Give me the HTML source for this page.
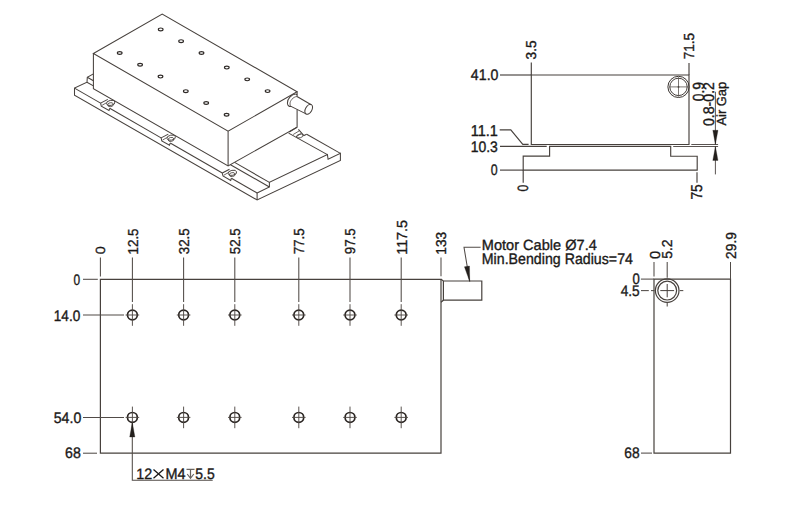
<!DOCTYPE html>
<html><head><meta charset="utf-8"><style>
html,body{margin:0;padding:0;background:#ffffff;}
svg{display:block;}
text{font-family:"Liberation Sans", sans-serif;text-rendering:geometricPrecision;}
</style></head><body>
<svg width="800" height="509" viewBox="0 0 800 509" stroke-linecap="butt" stroke-linejoin="miter">
<rect width="800" height="509" fill="#ffffff"/>
<path d="M93.4,53.5 L162.2,14.0 L297.1,91.8 L228.1,131.2 Z" stroke="#47413d" stroke-width="1.05" fill="none" />
<path d="M93.4,53.5 L93.4,88.6 L228.1,166.0 L297.1,127.1 L297.1,109.4" stroke="#47413d" stroke-width="1.05" fill="none" />
<line x1="228.10" y1="131.20" x2="228.10" y2="166.00" stroke="#47413d" stroke-width="1.05"/>
<line x1="297.10" y1="91.80" x2="297.10" y2="96.20" stroke="#47413d" stroke-width="1.05"/>
<ellipse cx="0" cy="0" rx="2.35" ry="1.4" transform="translate(160.70 29.40) rotate(0)" stroke="#2f2a27" stroke-width="1.15" fill="none"/>
<ellipse cx="0" cy="0" rx="2.35" ry="1.4" transform="translate(181.10 41.18) rotate(0)" stroke="#2f2a27" stroke-width="1.15" fill="none"/>
<ellipse cx="0" cy="0" rx="2.35" ry="1.4" transform="translate(201.50 52.96) rotate(0)" stroke="#2f2a27" stroke-width="1.15" fill="none"/>
<ellipse cx="0" cy="0" rx="2.35" ry="1.4" transform="translate(226.80 67.57) rotate(0)" stroke="#2f2a27" stroke-width="1.15" fill="none"/>
<ellipse cx="0" cy="0" rx="2.35" ry="1.4" transform="translate(247.20 79.35) rotate(0)" stroke="#2f2a27" stroke-width="1.15" fill="none"/>
<ellipse cx="0" cy="0" rx="2.35" ry="1.4" transform="translate(267.60 91.12) rotate(0)" stroke="#2f2a27" stroke-width="1.15" fill="none"/>
<ellipse cx="0" cy="0" rx="2.35" ry="1.4" transform="translate(119.70 53.00) rotate(0)" stroke="#2f2a27" stroke-width="1.15" fill="none"/>
<ellipse cx="0" cy="0" rx="2.35" ry="1.4" transform="translate(140.10 64.78) rotate(0)" stroke="#2f2a27" stroke-width="1.15" fill="none"/>
<ellipse cx="0" cy="0" rx="2.35" ry="1.4" transform="translate(160.50 76.56) rotate(0)" stroke="#2f2a27" stroke-width="1.15" fill="none"/>
<ellipse cx="0" cy="0" rx="2.35" ry="1.4" transform="translate(185.80 91.17) rotate(0)" stroke="#2f2a27" stroke-width="1.15" fill="none"/>
<ellipse cx="0" cy="0" rx="2.35" ry="1.4" transform="translate(206.20 102.95) rotate(0)" stroke="#2f2a27" stroke-width="1.15" fill="none"/>
<ellipse cx="0" cy="0" rx="2.35" ry="1.4" transform="translate(226.60 114.72) rotate(0)" stroke="#2f2a27" stroke-width="1.15" fill="none"/>
<line x1="297.00" y1="96.50" x2="311.20" y2="104.70" stroke="#47413d" stroke-width="1.05"/>
<line x1="291.00" y1="106.40" x2="306.10" y2="113.90" stroke="#47413d" stroke-width="1.05"/>
<ellipse cx="0" cy="0" rx="3.2" ry="5.4" transform="translate(308.70 109.30) rotate(30)" stroke="#47413d" stroke-width="1.05" fill="none"/>
<path d="M295.8,94.0 C291.5,94.2 287.0,99.0 287.4,103.2 C287.7,106.0 289.5,106.8 291.2,106.4" stroke="#47413d" stroke-width="1.05" fill="none" />
<path d="M297.0,96.5 C293.0,96.8 289.8,101.0 290.0,104.0 C290.2,105.8 290.8,106.3 291.2,106.4" stroke="#47413d" stroke-width="0.8" fill="none" />
<line x1="295.80" y1="94.00" x2="297.10" y2="94.80" stroke="#47413d" stroke-width="1.05"/>
<path d="M93.4,73.9 L87.3,77.3 L87.0,82.2 L74.5,88.1 L74.5,95.2 L257.1,200.0 L340.4,160.4 L340.4,153.4 L328.1,159.3 L327.4,154.6 L269.4,182.4 L269.4,187.0 L257.1,193.0" stroke="#47413d" stroke-width="1.05" fill="none" />
<line x1="87.30" y1="77.30" x2="93.40" y2="80.80" stroke="#47413d" stroke-width="1.05"/>
<line x1="257.10" y1="193.00" x2="257.10" y2="200.00" stroke="#47413d" stroke-width="1.05"/>
<line x1="87.00" y1="82.20" x2="93.40" y2="85.90" stroke="#47413d" stroke-width="1.05"/>
<line x1="269.40" y1="182.40" x2="234.60" y2="162.40" stroke="#47413d" stroke-width="1.05"/>
<line x1="269.40" y1="187.00" x2="230.50" y2="164.70" stroke="#47413d" stroke-width="1.05"/>
<line x1="327.40" y1="154.60" x2="288.60" y2="133.10" stroke="#47413d" stroke-width="1.05"/>
<line x1="340.40" y1="153.40" x2="306.70" y2="134.30" stroke="#47413d" stroke-width="1.05"/>
<line x1="74.50" y1="88.10" x2="100.60" y2="103.09" stroke="#47413d" stroke-width="1.05"/>
<path d="M100.6,103.09445 L101.3,106.09445 L109.0,110.49445 L109.69999999999999,108.32239999999999" stroke="#47413d" stroke-width="1.05" fill="none" />
<path d="M100.6,103.09445 L107.8,99.39444999999999" stroke="#47413d" stroke-width="1.05" fill="none" />
<path d="M102.1,105.29445 L106.39999999999999,102.79445" stroke="#47413d" stroke-width="0.8" fill="none" />
<ellipse cx="0" cy="0" rx="4.3" ry="2.5" transform="translate(110.70 102.89) rotate(-12)" stroke="#47413d" stroke-width="0.9" fill="none"/>
<ellipse cx="0" cy="0" rx="2.9" ry="2.0" transform="translate(110.50 104.69) rotate(-10)" stroke="#47413d" stroke-width="0.8" fill="none"/>
<line x1="109.70" y1="108.32" x2="161.10" y2="137.85" stroke="#47413d" stroke-width="1.05"/>
<path d="M161.1,137.8517 L161.79999999999998,140.8517 L169.5,145.2517 L170.2,143.07965" stroke="#47413d" stroke-width="1.05" fill="none" />
<path d="M161.1,137.8517 L168.29999999999998,134.1517" stroke="#47413d" stroke-width="1.05" fill="none" />
<path d="M162.6,140.05169999999998 L166.9,137.55169999999998" stroke="#47413d" stroke-width="0.8" fill="none" />
<ellipse cx="0" cy="0" rx="4.3" ry="2.5" transform="translate(171.20 137.65) rotate(-12)" stroke="#47413d" stroke-width="0.9" fill="none"/>
<ellipse cx="0" cy="0" rx="2.9" ry="2.0" transform="translate(171.00 139.45) rotate(-10)" stroke="#47413d" stroke-width="0.8" fill="none"/>
<line x1="170.20" y1="143.08" x2="222.30" y2="173.01" stroke="#47413d" stroke-width="1.05"/>
<path d="M222.3,173.0111 L223.0,176.0111 L230.70000000000002,180.4111 L231.4,178.23905000000002" stroke="#47413d" stroke-width="1.05" fill="none" />
<path d="M222.3,173.0111 L229.5,169.3111" stroke="#47413d" stroke-width="1.05" fill="none" />
<path d="M223.8,175.2111 L228.10000000000002,172.7111" stroke="#47413d" stroke-width="0.8" fill="none" />
<ellipse cx="0" cy="0" rx="4.3" ry="2.5" transform="translate(232.40 172.81) rotate(-12)" stroke="#47413d" stroke-width="0.9" fill="none"/>
<ellipse cx="0" cy="0" rx="2.9" ry="2.0" transform="translate(232.20 174.61) rotate(-10)" stroke="#47413d" stroke-width="0.8" fill="none"/>
<line x1="231.40" y1="178.24" x2="257.10" y2="193.00" stroke="#47413d" stroke-width="1.05"/>
<path d="M297.0,127.2 L289.2,132.0" stroke="#47413d" stroke-width="1.05" fill="none" />
<path d="M298.4,129.3 L303.9,135.5 L306.7,134.3" stroke="#47413d" stroke-width="1.05" fill="none" />
<path d="M293.2,134.5 L299.0,131.0" stroke="#47413d" stroke-width="0.8" fill="none" />
<path d="M296.0,136.8 L301.0,133.6" stroke="#47413d" stroke-width="0.8" fill="none" />
<ellipse cx="0" cy="0" rx="3.3" ry="1.8" transform="translate(299.80 136.00) rotate(-15)" stroke="#47413d" stroke-width="0.8" fill="none"/>
<path d="M531.3,75.0 L689.0,75.0 L689.0,144.5 L531.3,144.5 Z" stroke="#47413d" stroke-width="1.15" fill="none" />
<line x1="500.00" y1="75.00" x2="531.30" y2="75.00" stroke="#47413d" stroke-width="1.15"/>
<line x1="531.30" y1="62.50" x2="531.30" y2="75.00" stroke="#47413d" stroke-width="1.15"/>
<line x1="689.00" y1="63.00" x2="689.00" y2="75.00" stroke="#47413d" stroke-width="1.15"/>
<circle cx="678.50" cy="86.90" r="10.6" stroke="#3a3430" stroke-width="1.0" fill="none"/>
<circle cx="678.50" cy="86.90" r="8.7" stroke="#3a3430" stroke-width="0.95" fill="none"/>
<line x1="669.30" y1="86.90" x2="688.00" y2="86.90" stroke="#514b47" stroke-width="0.75"/>
<line x1="678.50" y1="77.30" x2="678.50" y2="96.60" stroke="#514b47" stroke-width="0.75"/>
<circle cx="678.50" cy="86.90" r="0.9" stroke="#47413d" stroke-width="0" fill="#47413d"/>
<path d="M500.0,146.4 L546.7,146.4" stroke="#47413d" stroke-width="1.15" fill="none" />
<path d="M549.6,146.4 L670.7,146.4 L670.7,156.2 L697.2,156.2 L697.2,170.1 L523.2,170.1 L523.2,156.1 L549.6,156.1 Z" stroke="#47413d" stroke-width="1.15" fill="none" />
<line x1="500.00" y1="170.10" x2="523.20" y2="170.10" stroke="#47413d" stroke-width="1.15"/>
<line x1="523.20" y1="170.10" x2="523.20" y2="182.80" stroke="#47413d" stroke-width="1.15"/>
<line x1="697.00" y1="172.20" x2="697.00" y2="182.70" stroke="#47413d" stroke-width="1.15"/>
<path d="M499.7,129.9 L510.8,129.9 L522.8,144.3 L528.6,144.3" stroke="#47413d" stroke-width="1.15" fill="none" />
<line x1="691.30" y1="144.50" x2="718.10" y2="144.50" stroke="#47413d" stroke-width="0.9"/>
<line x1="673.20" y1="146.50" x2="718.10" y2="146.50" stroke="#47413d" stroke-width="0.9"/>
<line x1="715.40" y1="91.80" x2="715.40" y2="144.30" stroke="#47413d" stroke-width="0.9"/>
<path d="M715.4,144.4 L712.8,130.3 L718.0,130.3 Z" stroke="#231f1c" stroke-width="0.3" fill="#231f1c" />
<line x1="715.40" y1="146.60" x2="715.40" y2="174.40" stroke="#47413d" stroke-width="0.9"/>
<path d="M715.4,146.5 L712.8,160.4 L718.0,160.4 Z" stroke="#231f1c" stroke-width="0.3" fill="#231f1c" />
<path d="M100.4,279.3 L441.0,279.3 L441.0,453.2 L100.4,453.2 Z" stroke="#47413d" stroke-width="1.2" fill="none" />
<path d="M441.0,279.3 L443.4,281.0 L481.8,281.0 L481.8,300.2 L443.4,300.2 L441.0,302.2" stroke="#47413d" stroke-width="1.2" fill="none" />
<line x1="443.40" y1="281.00" x2="443.40" y2="300.20" stroke="#47413d" stroke-width="1.2"/>
<path d="M480.6,247.3 L464.0,247.3 L469.7,281.4" stroke="#514b47" stroke-width="1.05" fill="none" />
<path d="M469.7,281.6 L464.4,266.8 L469.5,266.0 Z" stroke="#231f1c" stroke-width="0.3" fill="#231f1c" />
<line x1="100.40" y1="257.50" x2="100.40" y2="276.60" stroke="#514b47" stroke-width="1.05"/>
<line x1="441.00" y1="257.50" x2="441.00" y2="276.30" stroke="#514b47" stroke-width="1.05"/>
<line x1="132.40" y1="257.50" x2="132.40" y2="302.00" stroke="#514b47" stroke-width="1.05"/>
<circle cx="132.40" cy="315.00" r="4.9" stroke="#2a2522" stroke-width="1.7" fill="none"/>
<line x1="125.60" y1="315.00" x2="139.20" y2="315.00" stroke="#514b47" stroke-width="0.95"/>
<line x1="132.40" y1="304.20" x2="132.40" y2="325.80" stroke="#514b47" stroke-width="0.95"/>
<circle cx="132.40" cy="417.40" r="4.9" stroke="#2a2522" stroke-width="1.7" fill="none"/>
<line x1="125.60" y1="417.40" x2="139.20" y2="417.40" stroke="#514b47" stroke-width="0.95"/>
<line x1="132.40" y1="406.60" x2="132.40" y2="428.20" stroke="#514b47" stroke-width="0.95"/>
<line x1="183.60" y1="257.50" x2="183.60" y2="302.00" stroke="#514b47" stroke-width="1.05"/>
<circle cx="183.60" cy="315.00" r="4.9" stroke="#2a2522" stroke-width="1.7" fill="none"/>
<line x1="176.80" y1="315.00" x2="190.40" y2="315.00" stroke="#514b47" stroke-width="0.95"/>
<line x1="183.60" y1="304.20" x2="183.60" y2="325.80" stroke="#514b47" stroke-width="0.95"/>
<circle cx="183.60" cy="417.40" r="4.9" stroke="#2a2522" stroke-width="1.7" fill="none"/>
<line x1="176.80" y1="417.40" x2="190.40" y2="417.40" stroke="#514b47" stroke-width="0.95"/>
<line x1="183.60" y1="406.60" x2="183.60" y2="428.20" stroke="#514b47" stroke-width="0.95"/>
<line x1="234.80" y1="257.50" x2="234.80" y2="302.00" stroke="#514b47" stroke-width="1.05"/>
<circle cx="234.80" cy="315.00" r="4.9" stroke="#2a2522" stroke-width="1.7" fill="none"/>
<line x1="228.00" y1="315.00" x2="241.60" y2="315.00" stroke="#514b47" stroke-width="0.95"/>
<line x1="234.80" y1="304.20" x2="234.80" y2="325.80" stroke="#514b47" stroke-width="0.95"/>
<circle cx="234.80" cy="417.40" r="4.9" stroke="#2a2522" stroke-width="1.7" fill="none"/>
<line x1="228.00" y1="417.40" x2="241.60" y2="417.40" stroke="#514b47" stroke-width="0.95"/>
<line x1="234.80" y1="406.60" x2="234.80" y2="428.20" stroke="#514b47" stroke-width="0.95"/>
<line x1="298.80" y1="257.50" x2="298.80" y2="302.00" stroke="#514b47" stroke-width="1.05"/>
<circle cx="298.80" cy="315.00" r="4.9" stroke="#2a2522" stroke-width="1.7" fill="none"/>
<line x1="292.00" y1="315.00" x2="305.60" y2="315.00" stroke="#514b47" stroke-width="0.95"/>
<line x1="298.80" y1="304.20" x2="298.80" y2="325.80" stroke="#514b47" stroke-width="0.95"/>
<circle cx="298.80" cy="417.40" r="4.9" stroke="#2a2522" stroke-width="1.7" fill="none"/>
<line x1="292.00" y1="417.40" x2="305.60" y2="417.40" stroke="#514b47" stroke-width="0.95"/>
<line x1="298.80" y1="406.60" x2="298.80" y2="428.20" stroke="#514b47" stroke-width="0.95"/>
<line x1="350.00" y1="257.50" x2="350.00" y2="302.00" stroke="#514b47" stroke-width="1.05"/>
<circle cx="350.00" cy="315.00" r="4.9" stroke="#2a2522" stroke-width="1.7" fill="none"/>
<line x1="343.20" y1="315.00" x2="356.80" y2="315.00" stroke="#514b47" stroke-width="0.95"/>
<line x1="350.00" y1="304.20" x2="350.00" y2="325.80" stroke="#514b47" stroke-width="0.95"/>
<circle cx="350.00" cy="417.40" r="4.9" stroke="#2a2522" stroke-width="1.7" fill="none"/>
<line x1="343.20" y1="417.40" x2="356.80" y2="417.40" stroke="#514b47" stroke-width="0.95"/>
<line x1="350.00" y1="406.60" x2="350.00" y2="428.20" stroke="#514b47" stroke-width="0.95"/>
<line x1="401.20" y1="257.50" x2="401.20" y2="302.00" stroke="#514b47" stroke-width="1.05"/>
<circle cx="401.20" cy="315.00" r="4.9" stroke="#2a2522" stroke-width="1.7" fill="none"/>
<line x1="394.40" y1="315.00" x2="408.00" y2="315.00" stroke="#514b47" stroke-width="0.95"/>
<line x1="401.20" y1="304.20" x2="401.20" y2="325.80" stroke="#514b47" stroke-width="0.95"/>
<circle cx="401.20" cy="417.40" r="4.9" stroke="#2a2522" stroke-width="1.7" fill="none"/>
<line x1="394.40" y1="417.40" x2="408.00" y2="417.40" stroke="#514b47" stroke-width="0.95"/>
<line x1="401.20" y1="406.60" x2="401.20" y2="428.20" stroke="#514b47" stroke-width="0.95"/>
<line x1="83.00" y1="279.30" x2="97.80" y2="279.30" stroke="#514b47" stroke-width="1.05"/>
<line x1="83.00" y1="315.00" x2="124.00" y2="315.00" stroke="#514b47" stroke-width="1.05"/>
<line x1="83.00" y1="417.40" x2="124.00" y2="417.40" stroke="#514b47" stroke-width="1.05"/>
<line x1="83.00" y1="453.20" x2="97.00" y2="453.20" stroke="#514b47" stroke-width="1.05"/>
<path d="M132.3,423.0 L132.3,480.3 L212.7,480.3" stroke="#514b47" stroke-width="1.05" fill="none" />
<path d="M132.3,422.3 L129.7,437.0 L134.9,437.0 Z" stroke="#231f1c" stroke-width="0.3" fill="#231f1c" />
<path d="M654.0,279.1 L730.5,279.1 L730.5,453.1 L654.0,453.1 Z" stroke="#47413d" stroke-width="1.2" fill="none" />
<line x1="640.90" y1="279.10" x2="654.00" y2="279.10" stroke="#514b47" stroke-width="1.05"/>
<line x1="654.00" y1="262.00" x2="654.00" y2="276.50" stroke="#514b47" stroke-width="1.05"/>
<line x1="667.20" y1="262.00" x2="667.20" y2="277.80" stroke="#514b47" stroke-width="1.05"/>
<line x1="730.50" y1="262.00" x2="730.50" y2="279.10" stroke="#514b47" stroke-width="1.05"/>
<circle cx="667.20" cy="290.60" r="11.8" stroke="#47413d" stroke-width="1.2" fill="none"/>
<circle cx="667.20" cy="290.60" r="9.4" stroke="#47413d" stroke-width="1.2" fill="none"/>
<line x1="660.30" y1="290.60" x2="674.10" y2="290.60" stroke="#47413d" stroke-width="1.0"/>
<line x1="667.20" y1="284.00" x2="667.20" y2="297.30" stroke="#47413d" stroke-width="1.0"/>
<line x1="641.00" y1="290.60" x2="648.80" y2="290.60" stroke="#514b47" stroke-width="1.05"/>
<line x1="651.00" y1="290.60" x2="654.50" y2="290.60" stroke="#514b47" stroke-width="1.05"/>
<line x1="679.80" y1="290.60" x2="683.30" y2="290.60" stroke="#514b47" stroke-width="1.05"/>
<line x1="667.20" y1="302.60" x2="667.20" y2="306.50" stroke="#514b47" stroke-width="1.05"/>
<line x1="641.00" y1="453.10" x2="652.00" y2="453.10" stroke="#514b47" stroke-width="1.05"/>
<text transform="matrix(0.14202 0 0 0.15211 470.845 80.148)" font-size="100" fill="#1b1918" stroke="#1b1918" stroke-width="2.4">41.0</text>
<text transform="matrix(0.14514 0 0 0.15652 470.711 135.800)" font-size="100" fill="#1b1918" stroke="#1b1918" stroke-width="2.4">11.1</text>
<text transform="matrix(0.13918 0 0 0.15211 470.756 152.048)" font-size="100" fill="#1b1918" stroke="#1b1918" stroke-width="2.4">10.3</text>
<text transform="matrix(0.12421 0 0 0.15211 490.803 175.348)" font-size="100" fill="#1b1918" stroke="#1b1918" stroke-width="2.4">0</text>
<text transform="matrix(0 -0.13664 0.14366 0 536.056 59.447)" font-size="100" fill="#1b1918" stroke="#1b1918" stroke-width="2.4">3.5</text>
<text transform="matrix(0 -0.13585 0.14571 0 693.754 59.279)" font-size="100" fill="#1b1918" stroke="#1b1918" stroke-width="2.4">71.5</text>
<text transform="matrix(0 -0.12211 0.14930 0 527.651 191.588)" font-size="100" fill="#1b1918" stroke="#1b1918" stroke-width="2.4">0</text>
<text transform="matrix(0 -0.13725 0.15714 0 702.143 199.586)" font-size="100" fill="#1b1918" stroke="#1b1918" stroke-width="2.4">75</text>
<text transform="matrix(0 -0.13769 0.16056 0 703.539 101.251)" font-size="100" fill="#1b1918" stroke="#1b1918" stroke-width="2.4">0.9</text>
<text transform="matrix(0 -0.14083 0.15352 0 713.846 125.963)" font-size="100" fill="#1b1918" stroke="#1b1918" stroke-width="2.4">0.8-0.2</text>
<text transform="matrix(0 -0.12915 0.13262 0 726.415 125.565)" font-size="100" fill="#1b1918" stroke="#1b1918" stroke-width="2.4">Air Gap</text>
<text transform="matrix(0.11895 0 0 0.15211 73.574 285.348)" font-size="100" fill="#1b1918" stroke="#1b1918" stroke-width="2.4">0</text>
<text transform="matrix(0.13607 0 0 0.15211 53.780 320.848)" font-size="100" fill="#1b1918" stroke="#1b1918" stroke-width="2.4">14.0</text>
<text transform="matrix(0.14155 0 0 0.15211 53.734 422.848)" font-size="100" fill="#1b1918" stroke="#1b1918" stroke-width="2.4">54.0</text>
<text transform="matrix(0.14118 0 0 0.15211 65.094 458.348)" font-size="100" fill="#1b1918" stroke="#1b1918" stroke-width="2.4">68</text>
<text transform="matrix(0 -0.14316 0.13239 0 105.368 254.273)" font-size="100" fill="#1b1918" stroke="#1b1918" stroke-width="2.4">0</text>
<text transform="matrix(0 -0.13388 0.14366 0 137.856 254.504)" font-size="100" fill="#1b1918" stroke="#1b1918" stroke-width="2.4">12.5</text>
<text transform="matrix(0 -0.13351 0.14366 0 189.056 254.234)" font-size="100" fill="#1b1918" stroke="#1b1918" stroke-width="2.4">32.5</text>
<text transform="matrix(0 -0.13351 0.14366 0 240.056 254.234)" font-size="100" fill="#1b1918" stroke="#1b1918" stroke-width="2.4">52.5</text>
<text transform="matrix(0 -0.13423 0.14571 0 304.054 254.371)" font-size="100" fill="#1b1918" stroke="#1b1918" stroke-width="2.4">77.5</text>
<text transform="matrix(0 -0.13387 0.14366 0 355.056 254.302)" font-size="100" fill="#1b1918" stroke="#1b1918" stroke-width="2.4">97.5</text>
<text transform="matrix(0 -0.14329 0.14571 0 406.554 254.775)" font-size="100" fill="#1b1918" stroke="#1b1918" stroke-width="2.4">117.5</text>
<text transform="matrix(0 -0.13677 0.14366 0 446.306 254.726)" font-size="100" fill="#1b1918" stroke="#1b1918" stroke-width="2.4">133</text>
<text transform="matrix(0.14592 0 0 0.14710 481.733 250.250)" font-size="100" fill="#1b1918" stroke="#1b1918" stroke-width="2.4">Motor Cable Ø7.4</text>
<text transform="matrix(0.14200 0 0 0.15217 481.764 264.100)" font-size="100" fill="#1b1918" stroke="#1b1918" stroke-width="2.4">Min.Bending Radius=74</text>
<text transform="matrix(0.14315 0 0 0.15000 136.226 478.600)" font-size="100" fill="#1b1918" stroke="#1b1918" stroke-width="2.4">12</text>
<text transform="matrix(0.14453 0 0 0.15217 165.444 478.600)" font-size="100" fill="#1b1918" stroke="#1b1918" stroke-width="2.4">M4</text>
<text transform="matrix(0.13969 0 0 0.15217 195.241 478.600)" font-size="100" fill="#1b1918" stroke="#1b1918" stroke-width="2.4">5.5</text>
<path d="M153.5,469.5 L163.5,478.2 M163.5,469.5 L153.5,478.2" stroke="#1b1918" stroke-width="1.3" fill="none" />
<path d="M186.5,469.3 L194.5,469.3 M190.5,469.3 L190.5,478.3 M187.2,474.0 L190.5,478.3 L193.8,474.0" stroke="#6a6460" stroke-width="1.2" fill="none" />
<text transform="matrix(0.13053 0 0 0.15211 632.378 284.448)" font-size="100" fill="#1b1918" stroke="#1b1918" stroke-width="2.4">0</text>
<text transform="matrix(0.13660 0 0 0.15429 620.658 296.346)" font-size="100" fill="#1b1918" stroke="#1b1918" stroke-width="2.4">4.5</text>
<text transform="matrix(0.13775 0 0 0.15211 624.361 458.448)" font-size="100" fill="#1b1918" stroke="#1b1918" stroke-width="2.4">68</text>
<text transform="matrix(0 -0.14737 0.14366 0 659.756 258.889)" font-size="100" fill="#1b1918" stroke="#1b1918" stroke-width="2.4">0</text>
<text transform="matrix(0 -0.13923 0.14366 0 672.256 258.857)" font-size="100" fill="#1b1918" stroke="#1b1918" stroke-width="2.4">5.2</text>
<text transform="matrix(0 -0.13838 0.14366 0 735.656 258.992)" font-size="100" fill="#1b1918" stroke="#1b1918" stroke-width="2.4">29.9</text>
</svg></body></html>
